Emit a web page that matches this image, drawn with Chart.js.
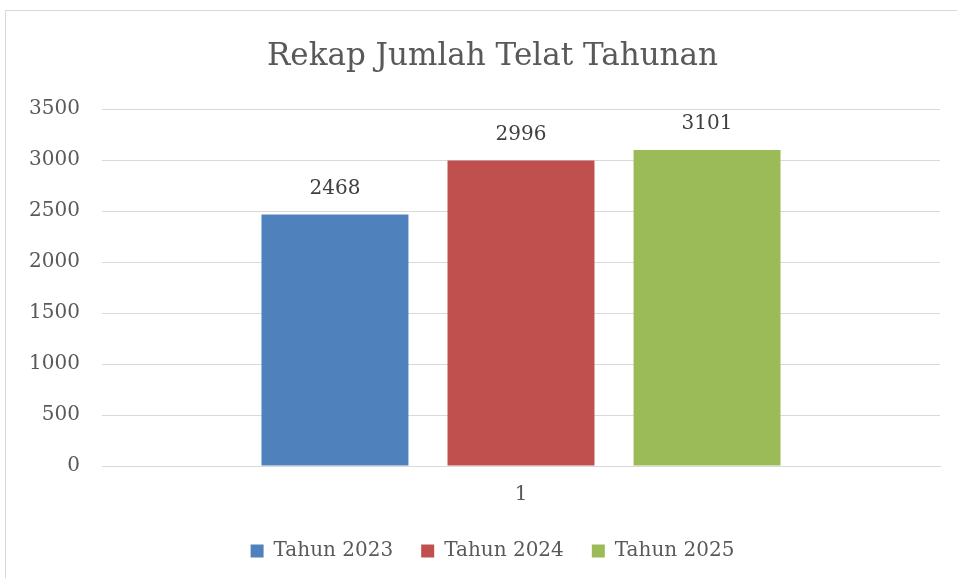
<!DOCTYPE html>
<html>
<head>
<meta charset="utf-8">
<script src="https://cdn.jsdelivr.net/npm/chart.js@4.4.0/dist/chart.umd.min.js"></script>
<style>
  html, body { margin: 0; padding: 0; background: #fff; overflow: hidden; }
  #wrap { position: absolute; left: 0; top: 0; width: 985px; height: 578px; }
</style>
</head>
<body>
<div id="wrap"><canvas id="myChart"></canvas></div>
<script>
const categories = ['1'];
const seriesNames = ['Tahun 2023', 'Tahun 2024', 'Tahun 2025'];
const seriesValues = [[2468], [2996], [3101]];
const seriesColors = ['#4F81BD', '#C0504D', '#9BBB59'];
const yTicks = [0, 500, 1000, 1500, 2000, 2500, 3000, 3500];

const FONT = "'DejaVu Serif', serif";

// chart frame, runs off the right and bottom like the original
const frame = {
  id: 'frame',
  beforeDraw(chart) {
    const c = chart.ctx;
    c.save();
    c.strokeStyle = '#d9d9d9';
    c.lineWidth = 1;
    c.strokeRect(5.5, 10.5, 1200, 800);
    c.restore();
  }
};

// draws the value above each bar
const barLabels = {
  id: 'barLabels',
  afterDatasetsDraw(chart) {
    const c = chart.ctx;
    c.save();
    c.font = '20px ' + FONT;
    c.fillStyle = '#404040';
    c.textAlign = 'center';
    c.textBaseline = 'middle';
    chart.data.datasets.forEach((ds, i) => {
      chart.getDatasetMeta(i).data.forEach((bar, j) => {
        c.fillText(ds.data[j], bar.x, bar.y - 26);
      });
    });
    c.restore();
  }
};

const ctx = document.getElementById('myChart');

new Chart(ctx, {
  type: 'bar',
  data: {
    labels: categories,
    datasets: seriesNames.map((name, i) => ({
      label: name,
      data: seriesValues[i],
      backgroundColor: seriesColors[i],
      borderWidth: 0,
      categoryPercentage: 0.666,
      barPercentage: 0.79
    }))
  },
  options: {
    responsive: true,
    maintainAspectRatio: false,
    animation: false,
    layout: { padding: { left: 0, right: 0, top: 0, bottom: 7 } },
    plugins: {
      title: {
        display: true,
        text: 'Rekap Jumlah Telat Tahunan',
        color: '#595959',
        font: { family: FONT, size: 31, weight: 'normal' },
        padding: { top: 38, bottom: 34 }
      },
      legend: {
        position: 'bottom',
        labels: {
          color: '#595959',
          font: { family: FONT, size: 20 },
          boxWidth: 13,
          boxHeight: 13,
          padding: 28
        }
      },
      tooltip: { enabled: false }
    },
    scales: {
      x: {
        grid: { display: false, drawTicks: false },
        border: { display: true, color: '#d9d9d9', width: 1 },
        afterFit: (scale) => { scale.height = 47; },
        ticks: { color: '#595959', font: { family: FONT, size: 20 }, padding: 17 }
      },
      y: {
        min: 0,
        max: 3500,
        afterFit: (scale) => { scale.width = 102; },
        afterBuildTicks: (scale) => { scale.ticks = yTicks.map(v => ({ value: v })); },
        grid: { color: '#d9d9d9', drawTicks: false },
        border: { display: false },
        ticks: {
          color: '#595959',
          font: { family: FONT, size: 20 },
          padding: 22,
          callback: (v) => String(v)
        }
      },
      yRight: {
        position: 'right',
        display: true,
        afterFit: (scale) => { scale.width = 45; },
        grid: { display: false, drawTicks: false },
        border: { display: false },
        ticks: { display: false }
      }
    }
  },
  plugins: [frame, barLabels]
});
</script>
</body>
</html>
